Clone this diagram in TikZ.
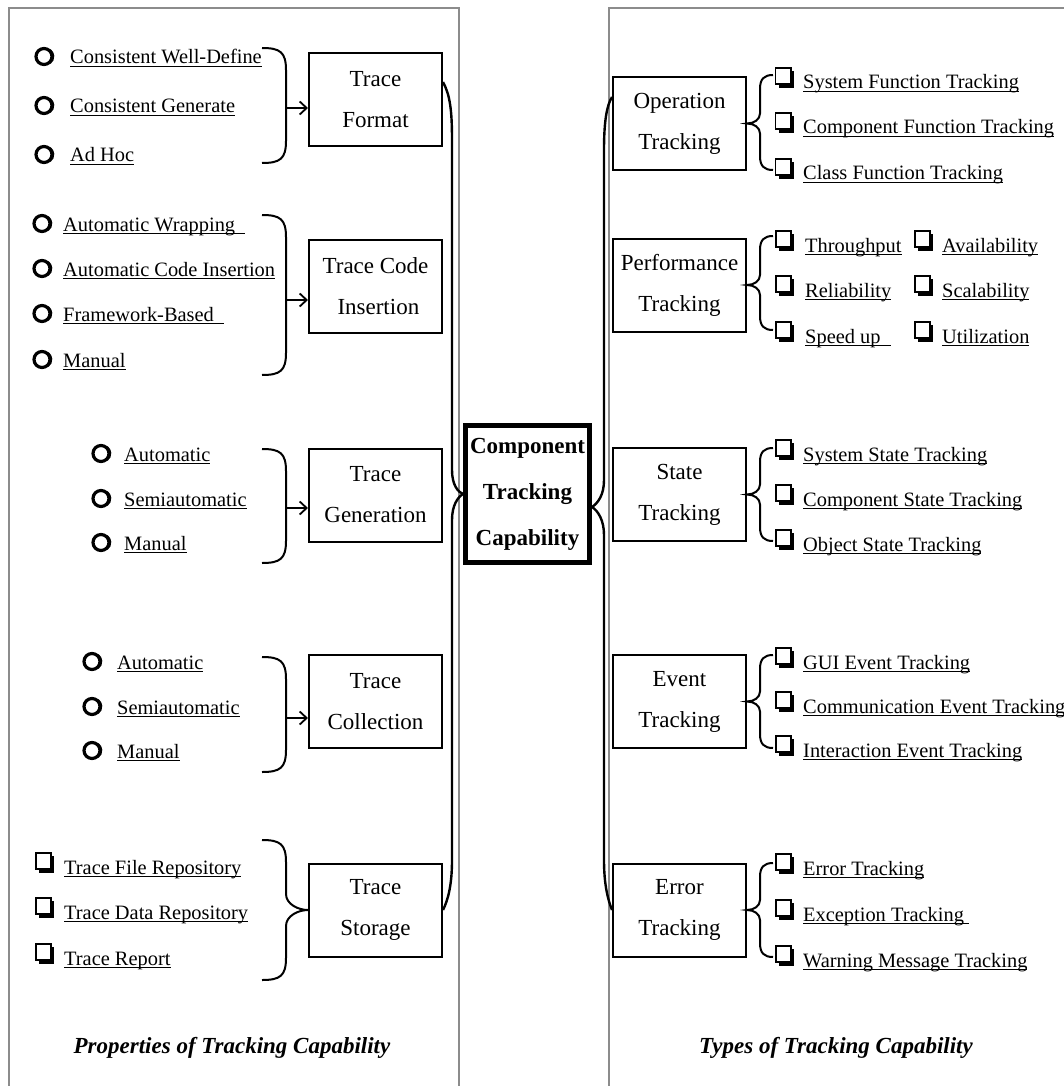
\documentclass[tikz,border=0pt]{standalone}
\usepackage{fontspec}
\setmainfont{Liberation Serif}
\usetikzlibrary{arrows.meta,calc}

% underline at a fixed depth, cutting through descenders
\newcommand\ulbox[1]{\setbox0\hbox{#1}\rlap{\rule[-3.2pt]{\wd0}{1.1pt}}\box0}

\tikzset{
  panel/.style={draw=black!45, line width=1.1pt},
  tbox/.style={draw, line width=2pt, minimum width=133, minimum height=93,
    inner sep=0pt, align=center, font=\fontsize{23}{41}\selectfont},
  hub/.style={draw, line width=5pt, minimum width=124, minimum height=137,
    inner sep=0pt, align=center, font=\fontsize{23}{46}\selectfont\bfseries},
  item/.style={anchor=base west, inner sep=0pt, font=\fontsize{20.4}{24}\selectfont},
  caption/.style={inner sep=0pt, font=\fontsize{23}{27}\selectfont\bfseries\itshape},
  brc/.style={line width=2pt},
  bigbrc/.style={line width=2.4pt},
  arr/.style={line width=1.8pt, -{Straight Barb[length=7pt,width=13pt,line width=1.8pt]}},
  circmark/.pic={
    \draw[line width=3.2pt] (0,0) circle[radius=8pt];
    \draw[line width=2.2pt] (1.2pt,0) ++(-55:8pt) arc[start angle=-55,end angle=55,radius=8pt];
  },
  sqmark/.pic={
    \fill (-6,-7) rectangle (9,10);
    \draw[line width=1.8pt, fill=white] (-9,-10) rectangle (6.2,6.2);
  }
}

% bracket on the property side: top, bottom, arrow height, target box
\newcommand\propbrack[4]{%
  \draw[brc] (262,#1) .. controls (280,#1) and (286,#1+4) .. (286,#1+22)
    -- (286,#2-22) .. controls (286,#2-4) and (280,#2) .. (262,#2);
  \coordinate (#4-in) at (286,#3);
  \draw[arr] (#4-in) -- (#4-in -| #4.west);}

% curly brace on the type side: top, tip height, bottom, source box
\newcommand\typebrack[4]{%
  \draw[brc] (773,#1) .. controls (764,#1) and (760,#1+4) .. (760,#1+14)
    -- (760,#2-10) .. controls (760,#2-4) and (754,#2) .. (#4.east)
    .. controls (754,#2) and (760,#2+4) .. (760,#2+10)
    -- (760,#3-14) .. controls (760,#3-4) and (764,#3) .. (773,#3);}

\begin{document}
\begin{tikzpicture}[x=1pt,y=-1pt]
\useasboundingbox (0,0) rectangle (1064,1086);

% panels
\draw[panel] (9,1090) -- (9,8) -- (459,8) -- (459,1090);
\draw[panel] (609,1090) -- (609,8) -- (1070,8);

% central capability
\node[hub] (comp) at (527.5,494) {Component\\Tracking\\Capability};

% property boxes
\node[tbox] (fmt) at (375.5,100)   {Trace\\Format};
\node[tbox] (ins) at (375.5,286.5) {Trace Code\\\ Insertion};
\node[tbox] (gen) at (375.5,495)   {Trace\\Generation};
\node[tbox] (col) at (375.5,701.5) {Trace\\Collection};
\node[tbox] (sto) at (375.5,910)   {Trace\\Storage};

% type boxes
\node[tbox] (op)    at (679.5,123.5) {Operation\\Tracking};
\node[tbox] (perf)  at (679.5,285)   {Performance\\Tracking};
\node[tbox] (state) at (679.5,494.5) {State\\Tracking};
\node[tbox] (event) at (679.5,701.5) {Event\\Tracking};
\node[tbox] (err)   at (679.5,910)   {Error\\Tracking};

% big braces joining the boxes to the central capability
\draw[bigbrc] (fmt.east |- 0,82) .. controls (450,95) and (452,110) .. (452,140)
  -- (452,470) .. controls (452,485) and (458,492) .. (comp.west)
  .. controls (458,497) and (452,505) .. (452,520)
  -- (452,860) .. controls (452,885) and (448,900) .. (sto.east);
\draw[bigbrc] (op.west |- 0,97) .. controls (607,105) and (604,120) .. (604,150)
  -- (604,480) .. controls (604,495) and (598,503) .. (comp.east |- 0,507)
  .. controls (598,511) and (604,520) .. (604,535)
  -- (604,860) .. controls (604,885) and (608,900) .. (err.west);

% ---- Trace Format
\propbrack{48}{163}{108}{fmt}
\pic at (44,56.5) {circmark}; \node[item] (f1) at (70,64)  {\ulbox{Consistent Well-Define}};
\pic at (44,105.5) {circmark}; \node[item] (f2) at (70,113) {\ulbox{Consistent Generate}};
\pic at (44,154.5) {circmark}; \node[item] (f3) at (70,162) {\ulbox{Ad Hoc}};

% ---- Trace Code Insertion
\propbrack{215}{375}{300}{ins}
\pic at (42,223.5) {circmark}; \node[item] (i1) at (63,231) {\ulbox{Automatic Wrapping\ \ }};
\pic at (42,268.5) {circmark}; \node[item] (i2) at (63,276) {\ulbox{Automatic Code Insertion}};
\pic at (42,313.5) {circmark}; \node[item] (i3) at (63,321) {\ulbox{Framework-Based\ \ }};
\pic at (42,359.5) {circmark}; \node[item] (i4) at (63,367) {\ulbox{Manual}};

% ---- Trace Generation
\propbrack{449}{563}{508}{gen}
\pic at (101,453.5) {circmark}; \node[item] (g1) at (124,461) {\ulbox{Automatic}};
\pic at (101,498.5) {circmark}; \node[item] (g2) at (124,506) {\ulbox{Semiautomatic}};
\pic at (101,542.5) {circmark}; \node[item] (g3) at (124,550) {\ulbox{Manual}};

% ---- Trace Collection
\propbrack{657}{772}{718}{col}
\pic at (92,661.5) {circmark}; \node[item] (c1) at (117,669) {\ulbox{Automatic}};
\pic at (92,706.5) {circmark}; \node[item] (c2) at (117,714) {\ulbox{Semiautomatic}};
\pic at (92,750.5) {circmark}; \node[item] (c3) at (117,758) {\ulbox{Manual}};

% ---- Trace Storage
\draw[brc] (262,840) .. controls (280,840) and (286,844) .. (286,862) -- (286,894)
  .. controls (286,904) and (298,910) .. (sto.west)
  .. controls (298,910) and (286,916) .. (286,926) -- (286,958)
  .. controls (286,976) and (280,980) .. (262,980);
\pic at (45,863) {sqmark}; \node[item] (s1) at (64,874) {\ulbox{Trace File Repository}};
\pic at (45,908) {sqmark}; \node[item] (s2) at (64,919) {\ulbox{Trace Data Repository}};
\pic at (45,954) {sqmark}; \node[item] (s3) at (64,965) {\ulbox{Trace Report}};

% ---- Operation Tracking
\typebrack{75}{123.5}{170}{op}
\pic at (784.5,78)  {sqmark}; \node[item] (o1) at (803,89)  {\ulbox{System Function Tracking}};
\pic at (784.5,123) {sqmark}; \node[item] (o2) at (803,134) {\ulbox{Component Function Tracking}};
\pic at (784.5,169) {sqmark}; \node[item] (o3) at (803,180) {\ulbox{Class Function Tracking}};

% ---- Performance Tracking
\typebrack{236}{285}{330}{perf}
\pic at (785,241) {sqmark}; \node[item] (p1) at (805,252) {\ulbox{Throughput}};
\pic at (785,286) {sqmark}; \node[item] (p2) at (805,297) {\ulbox{Reliability}};
\pic at (785,332) {sqmark}; \node[item] (p3) at (805,343) {\ulbox{Speed up\ \ }};
\pic at (924,241) {sqmark}; \node[item] (p4) at (942,252) {\ulbox{Availability}};
\pic at (924,286) {sqmark}; \node[item] (p5) at (942,297) {\ulbox{Scalability}};
\pic at (924,332) {sqmark}; \node[item] (p6) at (942,343) {\ulbox{Utilization}};

% ---- State Tracking
\typebrack{448}{494.5}{541}{state}
\pic at (785,450) {sqmark}; \node[item] (st1) at (803,461) {\ulbox{System State Tracking}};
\pic at (785,495) {sqmark}; \node[item] (st2) at (803,506) {\ulbox{Component State Tracking}};
\pic at (785,540) {sqmark}; \node[item] (st3) at (803,551) {\ulbox{Object State Tracking}};

% ---- Event Tracking
\typebrack{655}{701.5}{748}{event}
\pic at (785,658) {sqmark}; \node[item] (e1) at (803,669) {\ulbox{GUI Event Tracking}};
\pic at (785,702) {sqmark}; \node[item] (e2) at (803,713) {\ulbox{Communication Event Tracking}};
\pic at (785,746) {sqmark}; \node[item] (e3) at (803,757) {\ulbox{Interaction Event Tracking}};

% ---- Error Tracking
\typebrack{863}{910}{957}{err}
\pic at (785,864) {sqmark}; \node[item] (r1) at (803,875) {\ulbox{Error Tracking}};
\pic at (785,910) {sqmark}; \node[item] (r2) at (803,921) {\ulbox{Exception Tracking\ }};
\pic at (785,956) {sqmark}; \node[item] (r3) at (803,967) {\ulbox{Warning Message Tracking}};

% panel captions
\node[caption] (lcap) at (232,1048) {Properties of Tracking Capability};
\node[caption] (rcap) at (836,1048) {Types of Tracking Capability};
\end{tikzpicture}
\end{document}
